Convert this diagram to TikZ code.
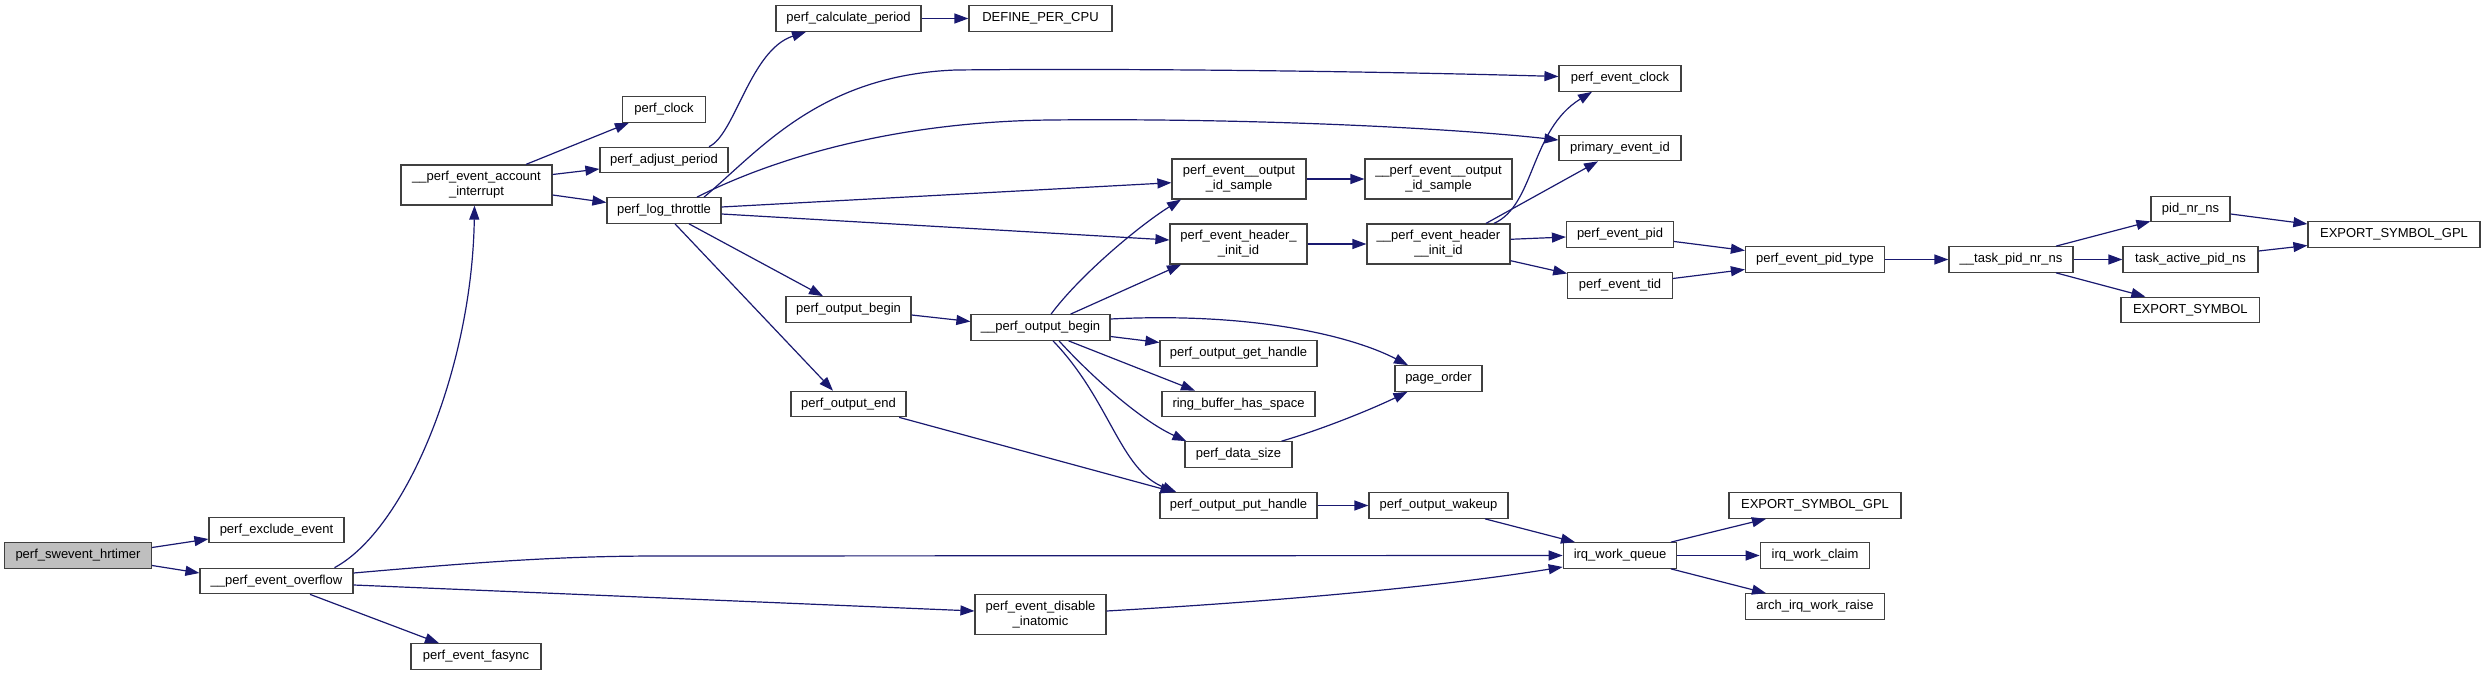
\documentclass[tikz,border=0pt]{standalone}
\usepackage{fontspec}
\setmainfont{Liberation Sans}
\usetikzlibrary{arrows.meta,calc}
\definecolor{edgec}{HTML}{191970}
\definecolor{bord}{HTML}{404040}
\definecolor{fillg}{HTML}{BFBFBF}
\tikzset{
 fn/.style={draw=bord, line width=1.2pt, fill=white, inner sep=0pt, align=center, font=\fontsize{13}{15}\selectfont, text=black, minimum height=25.5pt},
 fn2/.style={fn, minimum height=40pt},
 conn/.style={draw=edgec, line width=1.2pt, -{Triangle[length=14pt,width=10pt]}},
}
\begin{document}
\begin{tikzpicture}[x=1pt,y=-1pt]
\useasboundingbox (0,0) rectangle (2485,676);
% nodes
\node[fn, fill=fillg, minimum width=147pt] (hrt) at (78,555.5) {perf\_swevent\_hrtimer};
\node[fn, minimum width=135pt] (exc) at (276.5,530) {perf\_exclude\_event};
\node[fn, minimum width=153pt] (ovf) at (276.5,581) {\_\_perf\_event\_overflow};
\node[fn, minimum width=130pt] (fas) at (476,656.5) {perf\_event\_fasync};
\node[fn2, minimum width=151pt] (acc) at (476.5,185) {\_\_perf\_event\_account\\\_interrupt};
\node[fn, minimum width=83pt] (clk) at (664,109.5) {perf\_clock};
\node[fn, minimum width=128pt] (adj) at (664,160) {perf\_adjust\_period};
\node[fn, minimum width=114pt] (thr) at (664,210.5) {perf\_log\_throttle};
\node[fn, minimum width=145pt] (cal) at (848.5,18.5) {perf\_calculate\_period};
\node[fn, minimum width=143pt] (def) at (1040.5,18.5) {DEFINE\_PER\_CPU};
\node[fn, minimum width=125pt] (ob) at (848.5,309.5) {perf\_output\_begin};
\node[fn, minimum width=115pt] (oe) at (848.5,404) {perf\_output\_end};
\node[fn, minimum width=139pt] (pob) at (1040.5,327.5) {\_\_perf\_output\_begin};
\node[fn2, minimum width=131pt] (dis) at (1040.5,614.5) {perf\_event\_disable\\\_inatomic};
\node[fn2, minimum width=134pt] (ois) at (1239,179) {perf\_event\_\_output\\\_id\_sample};
\node[fn2, minimum width=137pt] (hii) at (1238.5,244) {perf\_event\_header\_\\\_init\_id};
\node[fn, minimum width=157pt] (ogh) at (1238.5,353.5) {perf\_output\_get\_handle};
\node[fn, minimum width=153pt] (rbs) at (1238.5,404) {ring\_buffer\_has\_space};
\node[fn, minimum width=107pt] (pds) at (1238.5,454.5) {perf\_data\_size};
\node[fn, minimum width=157pt] (oph) at (1238.5,505.5) {perf\_output\_put\_handle};
\node[fn2, minimum width=147pt] (pois) at (1438.5,179) {\_\_perf\_event\_\_output\\\_id\_sample};
\node[fn2, minimum width=143pt] (phii) at (1438.5,244) {\_\_perf\_event\_header\\\_\_init\_id};
\node[fn, minimum width=87pt] (po) at (1438.5,378.5) {page\_order};
\node[fn, minimum width=139pt] (ow) at (1438.5,505.5) {perf\_output\_wakeup};
\node[fn, minimum width=122pt] (pec) at (1620,78.5) {perf\_event\_clock};
\node[fn, minimum width=122pt] (pei) at (1620,148) {primary\_event\_id};
\node[fn, minimum width=107pt] (pid) at (1620,234.5) {perf\_event\_pid};
\node[fn, minimum width=104.5pt] (tid) at (1620,285.5) {perf\_event\_tid};
\node[fn, minimum width=113.5pt] (iwq) at (1620,555.5) {irq\_work\_queue};
\node[fn, minimum width=139pt] (ppt) at (1815,259.5) {perf\_event\_pid\_type};
\node[fn, minimum width=172pt] (esg2) at (1815,505.5) {EXPORT\_SYMBOL\_GPL};
\node[fn, minimum width=109.5pt] (iwc) at (1815,555.5) {irq\_work\_claim};
\node[fn, minimum width=139pt] (air) at (1815,606.5) {arch\_irq\_work\_raise};
\node[fn, minimum width=124pt] (tpn) at (2011,259.5) {\_\_task\_pid\_nr\_ns};
\node[fn, minimum width=79pt] (pnn) at (2190.5,209) {pid\_nr\_ns};
\node[fn, minimum width=135pt] (tap) at (2190.5,259.5) {task\_active\_pid\_ns};
\node[fn, minimum width=138.6pt] (es) at (2190.3,310) {EXPORT\_SYMBOL};
\node[fn, minimum width=172pt] (esg1) at (2394,234.5) {EXPORT\_SYMBOL\_GPL};
% edges
\draw[conn] ($(hrt.east)+(0,-8)$) -- ($(exc.west)+(0,9)$);
\draw[conn] ($(hrt.east)+(0,10)$) -- ($(ovf.west)+(0,-8)$);
\draw[conn] ($(ovf.north)+(58,0)$) .. controls (405,530) and (472,370) .. ($(acc.south)+(-2,0)$);
\draw[conn] ($(ovf.east)+(0,-8)$) .. controls (480,562) and (560,556) .. (660,556) -- (iwq.west);
\draw[conn] ($(ovf.east)+(0,4)$) -- ($(dis.west)+(0,-3.5)$);
\draw[conn] ($(ovf.south)+(33.5,0)$) -- ($(fas.north)+(-37,0)$);
\draw[conn] ($(acc.north)+(49.5,0)$) -- ($(clk.south west)+(7,0)$);
\draw[conn] ($(acc.east)+(0,-10.5)$) -- ($(adj.west)+(0,9)$);
\draw[conn] ($(acc.east)+(0,10)$) -- ($(thr.west)+(0,-8)$);
\draw[conn] ($(adj.north)+(45,0)$) .. controls (735,135) and (750,50) .. ($(cal.south)+(-42.5,0)$);
\draw[conn] (cal.east) -- (def.west);
\draw[conn] ($(thr.north)+(40,0)$) .. controls (760,150) and (820,75) .. (956,70) .. controls (1150,68) and (1400,72) .. ($(pec.west)+(0,-2)$);
\draw[conn] ($(thr.north)+(33,0)$) .. controls (760,165) and (880,122) .. (1050,120) .. controls (1250,118) and (1450,128) .. ($(pei.west)+(0,-8)$);
\draw[conn] ($(thr.east)+(0,-3.5)$) -- ($(ois.west)+(0,3.7)$);
\draw[conn] ($(thr.east)+(0,3.5)$) -- ($(hii.west)+(0,-4)$);
\draw[conn] ($(thr.south)+(25,0)$) -- ($(ob.north)+(-25.5,0)$);
\draw[conn] ($(thr.south)+(11,0)$) -- ($(oe.north)+(-15.5,0)$);
\draw[conn] ($(ob.east)+(0,5.5)$) -- ($(pob.west)+(0,-6)$);
\draw[conn] ($(pob.north)+(10.5,0)$) .. controls (1080,275) and (1140,225) .. ($(ois.south)+(-58,0)$);
\draw[conn] ($(pob.north)+(30,0)$) -- ($(hii.south)+(-57.5,0)$);
\draw[conn] ($(pob.east)+(0,-8.5)$) .. controls (1250,312) and (1350,335) .. ($(po.north)+(-30.5,0)$);
\draw[conn] ($(pob.east)+(0,9)$) -- ($(ogh.west)+(0,-11)$);
\draw[conn] ($(pob.south)+(28,0)$) -- ($(rbs.north)+(-43.5,0)$);
\draw[conn] ($(pob.south)+(18.5,0)$) .. controls (1090,375) and (1140,420) .. ($(pds.north west)+(2,0)$);
\draw[conn] ($(pob.south)+(12.5,0)$) .. controls (1110,400) and (1120,470) .. ($(oph.north west)+(17,0)$);
\draw[conn] ($(oe.south east)+(-7.5,0)$) -- ($(oph.north west)+(15,0)$);
\draw[conn] (ois.east) -- (pois.west);
\draw[conn] (hii.east) -- (phii.west);
\draw[conn] ($(phii.north)+(55.5,0)$) .. controls (1535,205) and (1530,130) .. ($(pec.south)+(-28,0)$);
\draw[conn] ($(phii.north)+(47.5,0)$) -- ($(pei.south)+(-22,0)$);
\draw[conn] ($(phii.east)+(0,-4.7)$) -- ($(pid.west)+(0,2.5)$);
\draw[conn] ($(phii.east)+(0,16.7)$) -- ($(tid.west)+(0,-12)$);
\draw[conn] ($(pid.east)+(0,7)$) -- ($(ppt.west)+(0,-9)$);
\draw[conn] ($(tid.east)+(0,-7)$) -- ($(ppt.west)+(0,10)$);
\draw[conn] (ppt.east) -- (tpn.west);
\draw[conn] ($(tpn.north)+(45,0)$) -- ($(pnn.south west)+(0,-1)$);
\draw[conn] (tpn.east) -- (tap.west);
\draw[conn] ($(tpn.south)+(45,0)$) -- ($(es.north)+(-45,0)$);
\draw[conn] ($(pnn.east)+(0,5)$) -- ($(esg1.west)+(0,-10.5)$);
\draw[conn] ($(tap.east)+(0,-8.5)$) -- ($(esg1.west)+(0,11)$);
\draw[conn] ($(pds.north east)+(-11,0)$) .. controls (1320,430) and (1370,410) .. ($(po.south)+(-31,0)$);
\draw[conn] (oph.east) -- (ow.west);
\draw[conn] ($(ow.south)+(46.5,0)$) -- ($(iwq.north)+(-45,0)$);
\draw[conn] ($(dis.east)+(0,-3.5)$) .. controls (1300,600) and (1450,585) .. ($(iwq.west)+(0,11.5)$);
\draw[conn] ($(iwq.north east)+(-6.5,0)$) -- ($(esg2.south)+(-49,0)$);
\draw[conn] (iwq.east) -- (iwc.west);
\draw[conn] ($(iwq.south east)+(-6.5,0)$) -- ($(air.north)+(-49,0)$);
\end{tikzpicture}
\end{document}
